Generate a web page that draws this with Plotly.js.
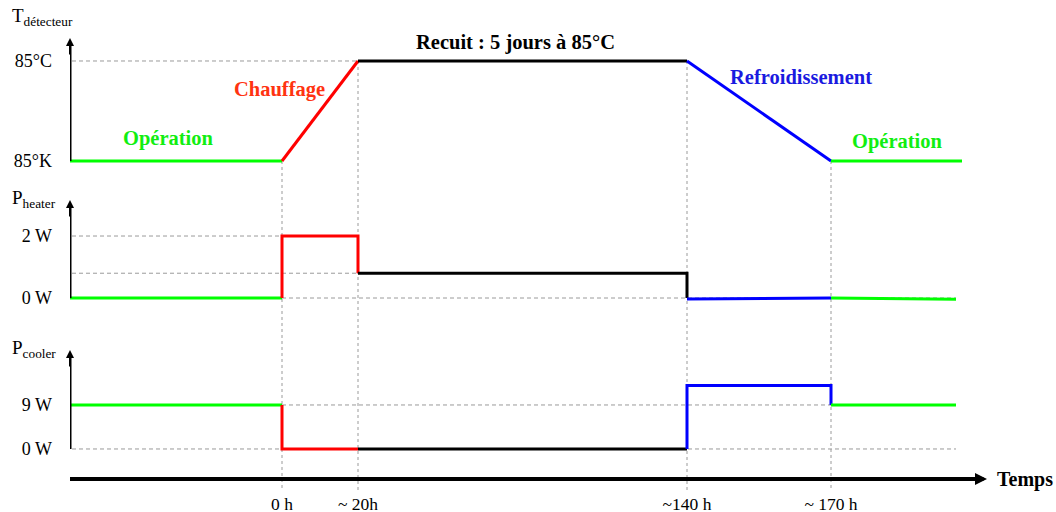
<!DOCTYPE html>
<html>
<head>
<meta charset="utf-8">
<script src="https://cdn.plot.ly/plotly-3.0.1.min.js"></script>
<style>html,body{margin:0;padding:0;background:#fff;}#chart{width:1056px;height:512px;}</style>
</head>
<body>
<div id="chart"></div>
<script>
// ---- schematic time axis (arbitrary schematic units, not to scale) ----
const timeStart = -212;
const timeTickVals = [0, 76, 405, 549];
const timeTickText = ['0 h', '~ 20h', '~140 h', '~ 170 h'];

// ---- T détecteur (0 = 85°K, 1 = 85°C) ----
const tempTickVals = [0, 1];
const tempTickText = ['85°K', '85°C'];
const tOpBeforeX = [-212, 0],   tOpBeforeY = [0, 0];
const tHeatX     = [0, 76],     tHeatY     = [0, 1];
const tAnnealX   = [76, 405],   tAnnealY   = [1, 1];
const tCoolX     = [405, 549],  tCoolY     = [1, 0];
const tOpAfterX  = [549, 680],  tOpAfterY  = [0, 0];

// ---- P heater (W) ----
const heaterTickVals = [0, 2];
const heaterTickText = ['0 W', '2 W'];
const hOpBeforeX = [-212, 0],        hOpBeforeY = [0, 0];
const hHeatX     = [0, 0, 76, 76],   hHeatY     = [0, 2, 2, 0.8];
const hAnnealX   = [76, 405, 405],   hAnnealY   = [0.8, 0.8, 0];
const hCoolX     = [405, 549],       hCoolY     = [-0.03, 0];
const hOpAfterX  = [549, 674],       hOpAfterY  = [0, -0.04];

// ---- P cooler (W) ----
const coolerTickVals = [0, 9];
const coolerTickText = ['0 W', '9 W'];
const cOpBeforeX = [-212, 0],          cOpBeforeY = [9, 9];
const cHeatX     = [0, 0, 76],         cHeatY     = [9, 0, 0];
const cAnnealX   = [76, 405],          cAnnealY   = [0, 0];
const cCoolX     = [405, 405, 549, 549], cCoolY   = [0, 13, 13, 9];
const cOpAfterX  = [549, 674],         cOpAfterY  = [9, 9];

// guide levels: [level, xEnd]
const tempGuides   = [[1, 76]];
const heaterGuides = [[2, 76], [0.8, 405], [0, 674]];
const coolerGuides = [[9, 674], [0, 674]];
// vertical guides: [time, panel-1 value where the guide starts]
const vGuides = [[0, 0], [76, 1], [405, 1], [549, 0]];

// axis arrow tips
const tempArrowTip = 1.23, heaterArrowTip = 3.16, coolerArrowTip = 20.25;
const timeArrowTip = 705;

const GREEN = '#00ff00', RED = '#ff0000', BLACK = '#000000', BLUE = '#0000ff';
const FONT = "'Liberation Serif', 'Times New Roman', Times, serif";

const axes = {
  y:  {domain: [0.6451, 0.9374], range: [-0.09, 1.31]},
  y2: {domain: [0.3528, 0.6033], range: [-0.387, 3.484]},
  y3: {domain: [0.0397, 0.2902], range: [-2.25, 22.295]}
};
function toPaper(ax, v) {
  const a = axes[ax];
  return a.domain[0] + (v - a.range[0]) / (a.range[1] - a.range[0]) * (a.domain[1] - a.domain[0]);
}

function seg(x, y, color, yaxis) {
  return {x: x, y: y, yaxis: yaxis, xaxis: 'x', type: 'scatter', mode: 'lines',
          line: {color: color, width: 3}, hoverinfo: 'skip', showlegend: false};
}

const data = [
  seg(tOpBeforeX, tOpBeforeY, GREEN, 'y'),
  seg(tHeatX, tHeatY, RED, 'y'),
  seg(tAnnealX, tAnnealY, BLACK, 'y'),
  seg(tCoolX, tCoolY, BLUE, 'y'),
  seg(tOpAfterX, tOpAfterY, GREEN, 'y'),

  seg(hOpBeforeX, hOpBeforeY, GREEN, 'y2'),
  seg(hHeatX, hHeatY, RED, 'y2'),
  seg(hAnnealX, hAnnealY, BLACK, 'y2'),
  seg(hCoolX, hCoolY, BLUE, 'y2'),
  seg(hOpAfterX, hOpAfterY, GREEN, 'y2'),

  seg(cOpBeforeX, cOpBeforeY, GREEN, 'y3'),
  seg(cHeatX, cHeatY, RED, 'y3'),
  seg(cAnnealX, cAnnealY, BLACK, 'y3'),
  seg(cCoolX, cCoolY, BLUE, 'y3'),
  seg(cOpAfterX, cOpAfterY, GREEN, 'y3')
];

const guideLine = {color: '#9a9a9a', width: 1, dash: '4px,3px'};
const shapes = [];
function hGuides(list, yref) {
  list.forEach(g => shapes.push({type: 'line', layer: 'below', xref: 'x', yref: yref,
    x0: -224, x1: g[1], y0: g[0], y1: g[0], line: guideLine}));
}
hGuides(tempGuides, 'y');
hGuides(heaterGuides, 'y2');
hGuides(coolerGuides, 'y3');
vGuides.forEach(g => shapes.push({type: 'line', layer: 'below', xref: 'x', yref: 'paper',
  x0: g[0], x1: g[0], y0: toPaper('y', g[1]), y1: -0.023,
  line: {color: '#9a9a9a', width: 1, dash: '3px,3px'}}));

// axis lines
[['y', tempArrowTip], ['y2', heaterArrowTip], ['y3', coolerArrowTip]].forEach(a => {
  shapes.push({type: 'line', xref: 'x', yref: a[0], x0: timeStart, x1: timeStart,
    y0: 0, y1: a[1] * 0.96, line: {color: BLACK, width: 3}});
});
shapes.push({type: 'line', xref: 'x', yref: 'paper', x0: timeStart, x1: timeArrowTip - 8,
  y0: 0, y1: 0, line: {color: BLACK, width: 4}});

function arrowHead(x, y, yref, ax, ay, w, s) {
  return {x: x, y: y, xref: 'x', yref: yref, ax: ax, ay: ay, axref: 'pixel', ayref: 'pixel',
    text: '', showarrow: true, arrowhead: 2, arrowsize: s, arrowwidth: w, arrowcolor: BLACK,
    standoff: 0, startstandoff: 0};
}

const annotations = [
  arrowHead(timeStart, tempArrowTip, 'y', 0, 18, 2, 0.8),
  arrowHead(timeStart, heaterArrowTip, 'y2', 0, 18, 2, 0.8),
  arrowHead(timeStart, coolerArrowTip, 'y3', 0, 18, 2, 0.8),
  arrowHead(timeArrowTip, 0, 'paper', -24, 0, 3, 0.8),
  {x: 713, y: 0, xref: 'x', yref: 'paper', xanchor: 'left', yanchor: 'middle', showarrow: false,
    text: '<b>Temps</b>', font: {family: FONT, size: 20, color: BLACK}},
  {x: 233, y: 1.18, xref: 'x', yref: 'y', showarrow: false,
    text: '<b>Recuit : 5 jours à 85°C</b>', font: {family: FONT, size: 20.5, color: BLACK}},
  {x: -3, y: 0.71, xref: 'x', yref: 'y', showarrow: false,
    text: '<b>Chauffage</b>', font: {family: FONT, size: 20.5, color: '#ff3311'}},
  {x: 519, y: 0.84, xref: 'x', yref: 'y', showarrow: false,
    text: '<b>Refroidissement</b>', font: {family: FONT, size: 20.5, color: '#1a1ae0'}},
  {x: -114, y: 0.22, xref: 'x', yref: 'y', showarrow: false,
    text: '<b>Opération</b>', font: {family: FONT, size: 20.5, color: '#11ee11'}},
  {x: 615, y: 0.19, xref: 'x', yref: 'y', showarrow: false,
    text: '<b>Opération</b>', font: {family: FONT, size: 20.5, color: '#11ee11'}},
  {x: -0.0608, y: 0.964, xref: 'paper', yref: 'paper', xanchor: 'left', yanchor: 'middle', showarrow: false,
    text: 'T<sub>détecteur</sub>', font: {family: FONT, size: 19, color: BLACK}},
  {x: -0.0608, y: 0.584, xref: 'paper', yref: 'paper', xanchor: 'left', yanchor: 'middle', showarrow: false,
    text: 'P<sub>heater</sub>', font: {family: FONT, size: 19, color: BLACK}},
  {x: -0.0608, y: 0.271, xref: 'paper', yref: 'paper', xanchor: 'left', yanchor: 'middle', showarrow: false,
    text: 'P<sub>cooler</sub>', font: {family: FONT, size: 19, color: BLACK}}
];

function yAx(key, vals, txt) {
  return {domain: axes[key].domain, range: axes[key].range, anchor: 'x',
    showgrid: false, zeroline: false, showline: false, ticks: '',
    tickvals: vals, ticktext: txt, ticklabelstandoff: 17,
    tickfont: {family: FONT, size: 18, color: BLACK}, fixedrange: true};
}

const layout = {
  width: 1056, height: 512,
  margin: {l: 70, r: 0, t: 0, b: 33, pad: 0},
  paper_bgcolor: '#ffffff', plot_bgcolor: '#ffffff',
  showlegend: false,
  font: {family: FONT, color: BLACK},
  xaxis: {range: [timeStart, 774], anchor: 'free', position: 0,
    showgrid: false, zeroline: false, showline: false, ticks: '',
    tickvals: timeTickVals, ticktext: timeTickText, ticklabelstandoff: 12,
    tickfont: {family: FONT, size: 17.5, color: BLACK}, fixedrange: true},
  yaxis: yAx('y', tempTickVals, tempTickText),
  yaxis2: yAx('y2', heaterTickVals, heaterTickText),
  yaxis3: yAx('y3', coolerTickVals, coolerTickText),
  shapes: shapes,
  annotations: annotations
};

Plotly.newPlot('chart', data, layout, {displayModeBar: false, staticPlot: true});
</script>
</body>
</html>
